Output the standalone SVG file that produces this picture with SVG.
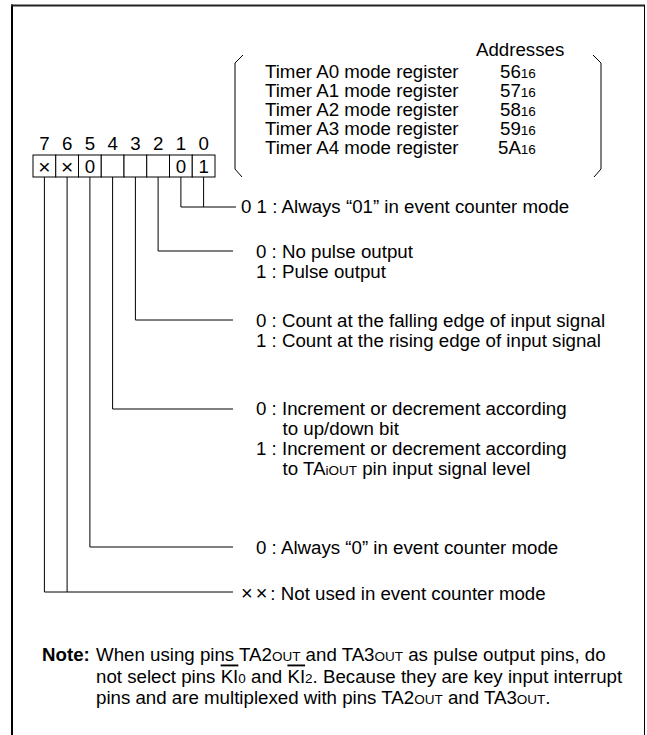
<svg xmlns="http://www.w3.org/2000/svg" width="647" height="735" viewBox="0 0 647 735">
<style>
  text { font-family: "Liberation Sans", Arial, sans-serif; font-size: 18.7px; fill: #000; }
  .sub { font-size: 13.5px; }
  .mid { text-anchor: middle; }
  .x { font-size: 21px; }
  .cell { fill: #fff; stroke: #000; stroke-width: 1; }
  .ln { fill: none; stroke: #000; stroke-width: 1; }
  .ol { text-decoration: overline; }
</style>
<rect x="0" y="0" width="647" height="735" fill="#fff"/>
<g id="frame">
  <line x1="12" y1="4.5" x2="12" y2="735" stroke="#000" stroke-width="2"/>
  <line x1="11" y1="5.5" x2="645" y2="5.5" stroke="#222" stroke-width="2"/>
  <line x1="644.5" y1="5" x2="644.5" y2="735" stroke="#000" stroke-width="1"/>
</g>
<g id="address-table">
  <path class="ln" d="M243,55 L235,63 L235,169 L242,177"/>
  <path class="ln" d="M593,55 L601,63 L601,169 L594,177"/>
  <text x="476" y="56">Addresses</text>
  <text x="265" y="78">Timer A0 mode register</text>
  <text x="265" y="97">Timer A1 mode register</text>
  <text x="265" y="116">Timer A2 mode register</text>
  <text x="265" y="135">Timer A3 mode register</text>
  <text x="265" y="154">Timer A4 mode register</text>
  <text x="500" y="78">56<tspan class="sub">16</tspan></text>
  <text x="500" y="97">57<tspan class="sub">16</tspan></text>
  <text x="500" y="116">58<tspan class="sub">16</tspan></text>
  <text x="500" y="135">59<tspan class="sub">16</tspan></text>
  <text x="498" y="154">5A<tspan class="sub">16</tspan></text>
</g>
<g id="bit-labels">
  <text class="mid" x="44.4" y="150">7</text>
  <text class="mid" x="67.1" y="150">6</text>
  <text class="mid" x="89.9" y="150">5</text>
  <text class="mid" x="112.6" y="150">4</text>
  <text class="mid" x="135.4" y="150">3</text>
  <text class="mid" x="158.1" y="150">2</text>
  <text class="mid" x="180.9" y="150">1</text>
  <text class="mid" x="203.6" y="150">0</text>
</g>
<g id="register">
  <rect class="cell" x="33" y="155" width="22.75" height="22"/>
  <rect class="cell" x="55.75" y="155" width="22.75" height="22"/>
  <rect class="cell" x="78.5" y="155" width="22.75" height="22"/>
  <rect class="cell" x="101.25" y="155" width="22.75" height="22"/>
  <rect class="cell" x="124" y="155" width="22.75" height="22"/>
  <rect class="cell" x="146.75" y="155" width="22.75" height="22"/>
  <rect class="cell" x="169.5" y="155" width="22.75" height="22"/>
  <rect class="cell" x="192.25" y="155" width="22.75" height="22"/>
  <text class="mid x" x="44.4" y="173.5">×</text>
  <text class="mid x" x="67.1" y="173.5">×</text>
  <text class="mid" x="89.9" y="173">0</text>
  <text class="mid" x="180.9" y="173">0</text>
  <text class="mid" x="203.6" y="173">1</text>
</g>
<g id="connectors">
  <path class="ln" d="M180.9,177 V207 H236 M203.6,177 V207"/>
  <path class="ln" d="M158.1,177 V251 H233"/>
  <path class="ln" d="M135.4,177 V320 H233"/>
  <path class="ln" d="M112.6,177 V409 H233"/>
  <path class="ln" d="M89.9,177 V547 H233"/>
  <path class="ln" d="M44.4,177 V592 H233 M67.1,177 V592"/>
</g>
<g id="desc-bit1-0">
  <text x="241" y="213">0 1 : Always “01” in event counter mode</text>
</g>
<g id="desc-bit2">
  <text x="256" y="258">0 : No pulse output</text>
  <text x="256" y="278">1 : Pulse output</text>
</g>
<g id="desc-bit3">
  <text x="256" y="327">0 : Count at the falling edge of input signal</text>
  <text x="256" y="347">1 : Count at the rising edge of input signal</text>
</g>
<g id="desc-bit4">
  <text x="256" y="415">0 : Increment or decrement according</text>
  <text x="282.5" y="435">to up/down bit</text>
  <text x="256" y="455">1 : Increment or decrement according</text>
  <text x="282.5" y="475">to TA<tspan class="sub">iOUT</tspan> pin input signal level</text>
</g>
<g id="desc-bit5">
  <text x="256" y="554">0 : Always “0” in event counter mode</text>
</g>
<g id="desc-bit7-6">
  <text x="241" y="599.5"><tspan style="font-size:20px;letter-spacing:3px">××</tspan>: Not used in event counter mode</text>
</g>
<g id="note">
  <text x="42" y="661" style="font-weight:bold">Note:</text>
  <text x="96" y="661">When using pins TA2<tspan class="sub">OUT</tspan> and TA3<tspan class="sub">OUT</tspan> as pulse output pins, do</text>
  <text x="96" y="682.5">not select pins <tspan class="ol">KI</tspan><tspan class="sub">0</tspan> and <tspan class="ol">KI</tspan><tspan class="sub">2</tspan>. Because they are key input interrupt</text>
  <text x="96" y="704">pins and are multiplexed with pins TA2<tspan class="sub">OUT</tspan> and TA3<tspan class="sub">OUT</tspan>.</text>
</g>
</svg>
